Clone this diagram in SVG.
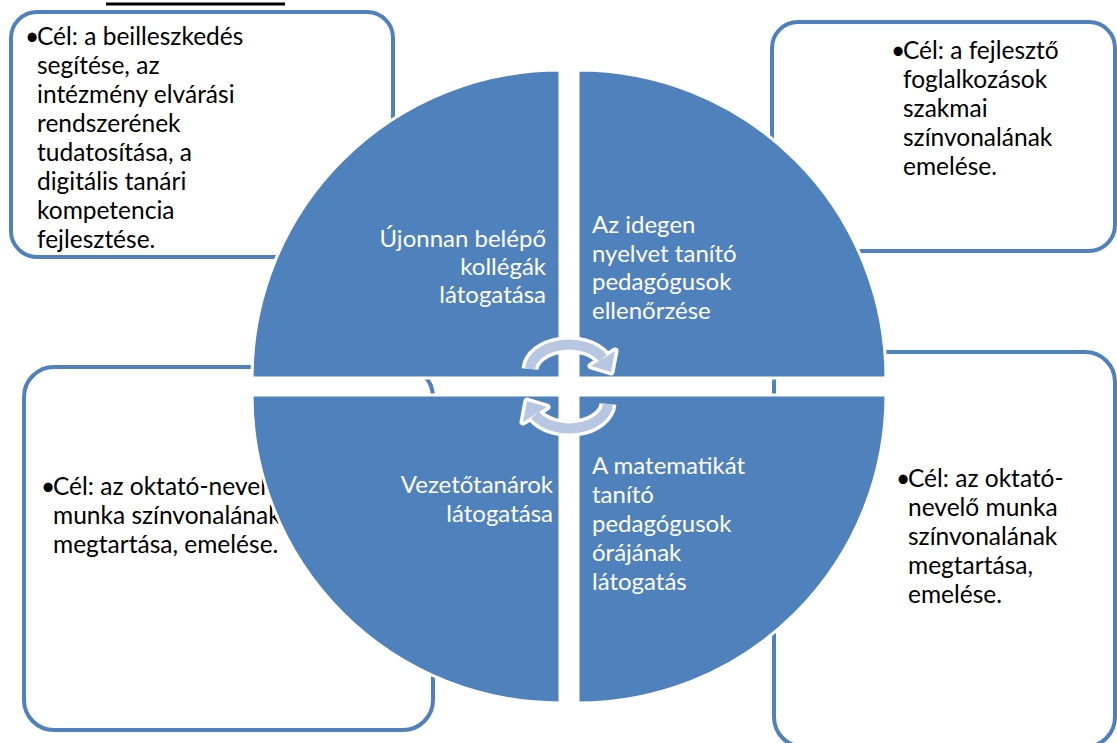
<svg xmlns="http://www.w3.org/2000/svg" xmlns:xlink="http://www.w3.org/1999/xlink" width="1117" height="743" viewBox="0 0 1117 743">
<style>
.box{fill:#fff;stroke:#4F81BD;stroke-width:4}
.quad{fill:#4F81BD;stroke:#fff;stroke-width:3}
.bt{font-family:Lato,"Liberation Sans",sans-serif;font-size:24.5px;fill:#000}
.qt{font-family:Lato,"Liberation Sans",sans-serif;font-size:24px;fill:#fff}
.r{text-anchor:end}
</style>
<defs>
<g id="arrow">
<path d="M530,369 A39,26 0 0 1 603,358" fill="none" stroke="#fff" stroke-width="17"/>
<polygon points="615,351 591,366 611,372" fill="#fff" stroke="#fff" stroke-width="7" stroke-linejoin="round"/>
<path d="M530,369 A39,26 0 0 1 603,358" fill="none" stroke="#B7C6E1" stroke-width="10"/>
<polygon points="615,351 591,366 611,372" fill="#B7C6E1"/>
</g>
</defs>
<rect width="1117" height="743" fill="#fff"/>
<line x1="106" y1="4" x2="285" y2="4" stroke="#000" stroke-width="3"/>
<g id="box-tl">
<rect class="box" x="11" y="12" width="382" height="245" rx="26"/>
<text class="bt" x="25" y="45">•</text>
<text class="bt" x="37" y="45">Cél: a beilleszkedés</text>
<text class="bt" x="37" y="74">segítése, az</text>
<text class="bt" x="37" y="103">intézmény elvárási</text>
<text class="bt" x="37" y="132">rendszerének</text>
<text class="bt" x="37" y="161">tudatosítása, a</text>
<text class="bt" x="37" y="190">digitális tanári</text>
<text class="bt" x="37" y="219">kompetencia</text>
<text class="bt" x="37" y="248">fejlesztése.</text>
</g>
<g id="box-tr">
<rect class="box" x="772" y="22" width="343" height="229" rx="26"/>
<text class="bt" x="891" y="59">•</text>
<text class="bt" x="903" y="59">Cél: a fejlesztő</text>
<text class="bt" x="903" y="88">foglalkozások</text>
<text class="bt" x="903" y="117">szakmai</text>
<text class="bt" x="903" y="146">színvonalának</text>
<text class="bt" x="903" y="175">emelése.</text>
</g>
<g id="box-bl">
<rect class="box" x="24" y="367" width="409" height="363" rx="30"/>
<text class="bt" x="41" y="495">•</text>
<text class="bt" x="53" y="495">Cél: az oktató-nevelő</text>
<text class="bt" x="53" y="524">munka színvonalának</text>
<text class="bt" x="53" y="553">megtartása, emelése.</text>
</g>
<g id="box-br">
<rect class="box" x="774" y="352" width="341" height="395" rx="30"/>
<text class="bt" x="896" y="487">•</text>
<text class="bt" x="908" y="487">Cél: az oktató-</text>
<text class="bt" x="908" y="516">nevelő munka</text>
<text class="bt" x="908" y="545">színvonalának</text>
<text class="bt" x="908" y="574">megtartása,</text>
<text class="bt" x="908" y="603">emelése.</text>
</g>
<g id="quad-tl">
<path class="quad" d="M560,378 L252,378 A308,308 0 0 1 560,70 Z"/>
<text class="qt r" x="546" y="247">Újonnan belépő</text>
<text class="qt r" x="546" y="275">kollégák</text>
<text class="qt r" x="546" y="303">látogatása</text>
</g>
<g id="quad-tr">
<path class="quad" d="M578,378 L578,70 A308,308 0 0 1 886,378 Z"/>
<text class="qt" x="592" y="233">Az idegen</text>
<text class="qt" x="592" y="262">nyelvet tanító</text>
<text class="qt" x="592" y="290">pedagógusok</text>
<text class="qt" x="592" y="319">ellenőrzése</text>
</g>
<g id="quad-br">
<path class="quad" d="M578,395 L886,395 A308,308 0 0 1 578,703 Z"/>
<text class="qt" x="592" y="474">A matematikát</text>
<text class="qt" x="592" y="503">tanító</text>
<text class="qt" x="592" y="532">pedagógusok</text>
<text class="qt" x="592" y="561">órájának</text>
<text class="qt" x="592" y="590">látogatás</text>
</g>
<g id="quad-bl">
<path class="quad" d="M560,395 L560,703 A308,308 0 0 1 252,395 Z"/>
<text class="qt r" x="553" y="493">Vezetőtanárok</text>
<text class="qt r" x="553" y="522">látogatása</text>
</g>
<g id="connectors">
<use xlink:href="#arrow"/>
<use xlink:href="#arrow" transform="rotate(180 569 386.5)"/>
</g>
</svg>
